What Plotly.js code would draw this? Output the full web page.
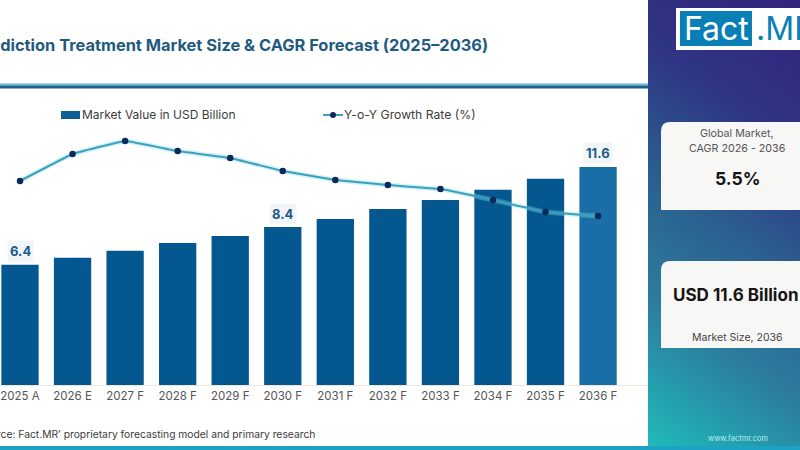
<!DOCTYPE html>
<html><head><meta charset="utf-8">
<script src="https://cdn.plot.ly/plotly-3.0.1.min.js"></script>
<style>
html,body{margin:0;padding:0;width:800px;height:450px;overflow:hidden;background:#fff}
#chart{width:800px;height:450px;background:linear-gradient(215deg,#33237c 0%,#2f3585 27%,#2b6090 51%,#2c7d9e 73%,#23a5b0 90%,#20bcb8 100%) right top/152px 450px no-repeat}
</style></head><body><div id="chart"></div>
<script>
const categories=['2025 A','2026 E','2027 F','2028 F','2029 F','2030 F','2031 F','2032 F','2033 F','2034 F','2035 F','2036 F'];
const marketValue=[6.4,6.77,7.14,7.55,7.93,8.4,8.83,9.36,9.84,10.39,10.97,11.6];
const growthRate=[5.40,5.67,5.80,5.70,5.63,5.50,5.41,5.36,5.32,5.21,5.09,5.05];
const labelled=['2025 A','2030 F','2036 F'];
const barColors=categories.map((c,i)=>i===categories.length-1?'#1a6ea8':'#04588f');
const FONT='Inter, "Open Sans", sans-serif';
const W=800,H=450;
const px=v=>v/W, py=v=>1-v/H;
function rrect(x0,y0,x1,y1,r){
  return `M${px(x0)},${py(y1)} L${px(x0)},${py(y0+r)} Q${px(x0)},${py(y0)} ${px(x0+r)},${py(y0)} L${px(x1)},${py(y0)} L${px(x1)},${py(y1)} Z`;
}
const rect=(x0,y0,x1,y1,c)=>({type:'rect',xref:'paper',yref:'paper',layer:'below',x0:px(x0),x1:px(x1),y0:py(y0),y1:py(y1),fillcolor:c,line:{width:0}});
const shapes=[
  rect(0,0,648,446,'#ffffff'),
  rect(0,83.5,648,85.5,'#5fb9cf'),
  rect(0,85.5,648,88.5,'#1d5f86'),
  rect(0,446,800,450,'#1ba3c6'),
  {type:'path',xref:'paper',yref:'paper',layer:'below',path:rrect(661,122,800,210,9),fillcolor:'#f7f7f6',line:{width:0}},
  {type:'path',xref:'paper',yref:'paper',layer:'below',path:rrect(661,261,800,348,9),fillcolor:'#f7f7f6',line:{width:0}},
  rect(676,8,800,50,'#ffffff'),
  rect(680,11,752,46,'#0a7fb5'),
  rect(61,111,80,119,'#0e5e94'),
  {type:'line',xref:'paper',yref:'paper',x0:px(323),x1:px(343),y0:py(115),y1:py(115),line:{color:'#3d9fba',width:2}},
  {type:'circle',xref:'paper',yref:'paper',x0:px(330),x1:px(336),y0:py(112),y1:py(118),fillcolor:'#0b2a5b',line:{width:0}}
];
const note=(x,y,text,size,color,anchor,weight)=>({xref:'paper',yref:'paper',x:px(x),y:py(y),text,showarrow:false,xanchor:anchor||'left',yanchor:'middle',font:{family:FONT,size,color,weight:weight||400}});
const annotations=[
  note(490,45,'Addiction Treatment Market Size &amp; CAGR Forecast (2025–2036)',16.4,'#1f5a80','right',700),
  note(80,114.5,'Market Value in USD Billion',12,'#3c3c3c'),
  note(342,114.5,'Y-o-Y Growth Rate (%)',12.2,'#3c3c3c'),
  note(317,434,'Source: Fact.MR’ proprietary forecasting model and primary research',10.3,'#3c3c3c','right'),
  note(737,133,'Global Market,',10.7,'#555555','center'),
  note(737,148,'CAGR 2026 - 2036',10.7,'#555555','center'),
  note(737,178,'5.5%',17.5,'#151515','center',700),
  note(671,295,'USD 11.6 Billion',17,'#151515','left',700),
  note(737,337,'Market Size, 2036',10.5,'#444444','center'),
  note(738,438,'www.factmr.com',7.5,'#b8ecf2','center'),
  note(716,29,'Fact',32,'#ffffff','center'),
  note(754,29,'.MR',32,'#0a7fb5','left')
];
categories.forEach((c,i)=>{ if(labelled.includes(c)) annotations.push({
  xref:'x',yref:'y',x:c,y:marketValue[i],yanchor:'bottom',yshift:2.5,text:'<b>'+marketValue[i].toFixed(1)+'</b>',showarrow:false,
  bgcolor:'#f1f5f8',borderpad:2,font:{family:FONT,size:13,color:'#1f5a88'}
});});
Plotly.newPlot('chart',[
 {type:'bar',name:'Market Value in USD Billion',x:categories,y:marketValue,marker:{color:barColors},showlegend:false,hoverinfo:'x+y'},
 {type:'scatter',mode:'lines',name:'glow',x:categories,y:growthRate,yaxis:'y2',line:{color:'rgba(120,220,235,0.35)',width:5,shape:'spline',smoothing:0.2},showlegend:false,hoverinfo:'skip'},
 {type:'scatter',mode:'lines+markers',name:'Y-o-Y Growth Rate (%)',x:categories,y:growthRate,yaxis:'y2',line:{color:'#3d9fba',width:2,shape:'spline',smoothing:0.2},marker:{color:'#0b2a5b',size:6.5},showlegend:false}
],{
 width:W,height:H,margin:{l:0,r:0,t:0,b:0,pad:0},
 paper_bgcolor:'rgba(0,0,0,0)',plot_bgcolor:'rgba(0,0,0,0)',
 font:{family:FONT,color:'#444'},
 bargap:0.29,showlegend:false,
 xaxis:{type:'category',categories,domain:[0,648/800],range:[-0.3806,11.95],showgrid:false,zeroline:false,showline:true,linecolor:'#efe6dc',linewidth:1,ticks:'',tickfont:{family:FONT,size:11.5,color:'#555'},tickangle:0,automargin:false},
 yaxis:{domain:[py(385),py(100)],range:[0,15.16],visible:false},
 yaxis2:{domain:[py(385),py(100)],range:[3.36,6.21],overlaying:'y',side:'right',visible:false},
 shapes,annotations
},{displayModeBar:false,staticPlot:true});
</script></body></html>
